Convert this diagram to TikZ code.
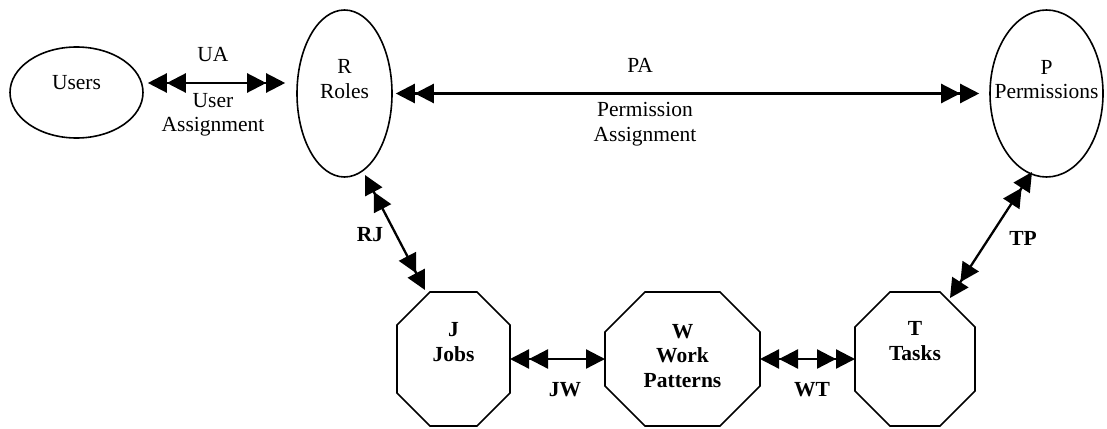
\documentclass[tikz,border=0pt]{standalone}
\usepackage{fontspec}
\setmainfont{Liberation Serif}
\usetikzlibrary{arrows.meta,shapes.geometric}
% octagon outline drawn through the anchors of a rectangular node
\newcommand\octoutline[2]{%
  \draw[line width=1.6pt]
    ([xshift=#2]#1.north west) -- ([xshift=-#2]#1.north east)
    -- ([yshift=-#2]#1.north east) -- ([yshift=#2]#1.south east)
    -- ([xshift=-#2]#1.south east) -- ([xshift=#2]#1.south west)
    -- ([yshift=#2]#1.south west) -- ([yshift=-#2]#1.north west) -- cycle;}
\begin{document}
\begin{tikzpicture}[x=1pt,y=-1pt,
  tri/.tip={Triangle[length=19pt,width=19pt,sep=0pt]},
  oval/.style={draw,line width=1.6pt,inner sep=0pt,ellipse},
  octa/.style={rectangle,inner sep=0pt,outer sep=0pt},
  txt/.style={font=\fontsize{21.5}{24.5}\selectfont,align=center,inner sep=0pt},
  btxt/.style={txt,font=\fontsize{21.5}{24.5}\selectfont\bfseries},
  link/.style={line width=2.3pt},
  both/.style={link,{tri[]tri[]}-{tri[]tri[]}},
]
\useasboundingbox (0,0) rectangle (1107,428);

% entity shapes
\node[oval,minimum width=133pt,minimum height=91pt] (users) at (76.5,92.5) {};
\node[oval,minimum width=95pt,minimum height=167pt] (roles) at (344.5,93.5) {};
\node[oval,minimum width=113pt,minimum height=167pt] (perms) at (1046.5,93.5) {};
\node[octa,minimum width=113pt,minimum height=134pt] (jobs) at (453.5,359) {};
\node[octa,minimum width=155pt,minimum height=134pt] (work) at (682.5,359) {};
\node[octa,minimum width=120pt,minimum height=134pt] (tasks) at (915,359) {};
\octoutline{jobs}{33pt}
\octoutline{work}{40pt}
\octoutline{tasks}{35pt}

% entity names
\node[txt] (userst) at ([yshift=9.5pt]users.center) {Users};
\node[txt] (rolest) at ([yshift=14.5pt]roles.center) {R\\Roles};
\node[txt] (permst) at ([yshift=14pt]perms.center) {P\\Permissions};
\node[btxt] (jobst) at ([yshift=17pt]jobs.center) {J\\Jobs};
\node[btxt] (workt) at ([yshift=3pt]work.center) {W\\Work\\Patterns};
\node[btxt] (taskst) at ([yshift=18pt]tasks.center) {T\\Tasks};

% relations
\draw[both,shorten <=4pt,shorten >=11pt]
  ([yshift=9.5pt]users.east) -- ([yshift=10.5pt]roles.west);
\draw[both,shorten <=3pt,shorten >=10pt] (roles.east) -- (perms.west);
\draw[both] ([shift={(20.5,81.5)}]roles.center) -- ([shift={(-28.5,-69)}]jobs.center);
\draw[both] ([shift={(-14.5,78.5)}]perms.center) -- ([shift={(35,-61)}]tasks.center);
\draw[link,{tri[]tri[]}-{tri[]}] (jobs.east) -- (work.west);
\draw[both] (work.east) -- (tasks.west);

% relation labels
\node[txt] (ua) at (213,55) {UA};
\node[txt] (uat) at (213,115) {User\\Assignment};
\node[txt] (pa) at (640,65) {PA};
\node[txt] (pat) at (645,124) {Permission\\Assignment};
\node[btxt] (rj) at (370,235) {RJ};
\node[btxt] (tp) at (1023,238) {TP};
\node[btxt] (jw) at (565,390) {JW};
\node[btxt] (wt) at (812,390) {WT};
\end{tikzpicture}
\end{document}
